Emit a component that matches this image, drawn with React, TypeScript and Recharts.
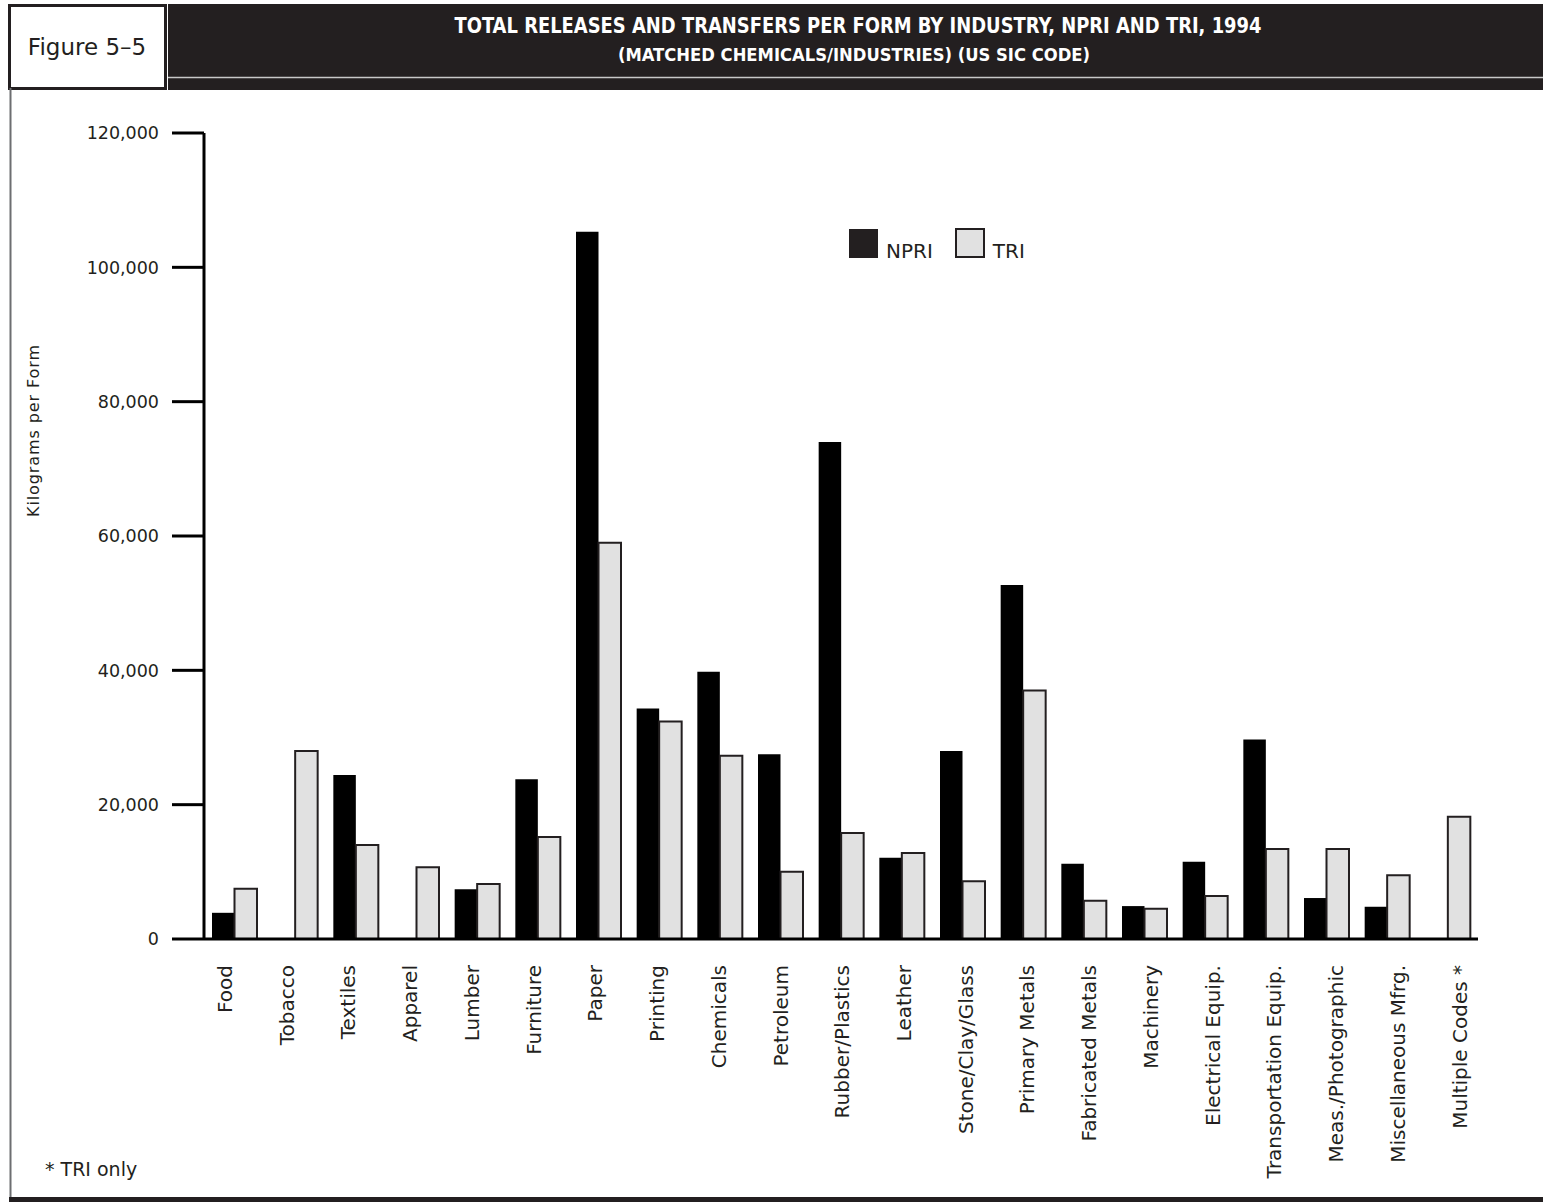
import React from 'react';
import { BarChart, Bar, XAxis, YAxis, Legend } from 'recharts';

const categories = [
  'Food', 'Tobacco', 'Textiles', 'Apparel', 'Lumber', 'Furniture', 'Paper', 'Printing',
  'Chemicals', 'Petroleum', 'Rubber/Plastics', 'Leather', 'Stone/Clay/Glass', 'Primary Metals',
  'Fabricated Metals', 'Machinery', 'Electrical Equip.', 'Transportation Equip.',
  'Meas./Photographic', 'Miscellaneous Mfrg.', 'Multiple Codes *',
];
const npriValues = [3900, null, 24400, null, 7400, 23800, 105300, 34300, 39800, 27500, 74000, 12100, 28000, 52700, 11200, 4900, 11500, 29700, 6100, 4800, null];
const triValues = [7500, 28000, 14000, 10700, 8200, 15200, 59000, 32400, 27300, 10000, 15800, 12800, 8600, 37000, 5700, 4500, 6400, 13400, 13400, 9500, 18200];
const yTicks = [0, 20000, 40000, 60000, 80000, 100000, 120000];

const data = categories.map((c, i) => ({ name: c, NPRI: npriValues[i], TRI: triValues[i] }));

const FONT = "'DejaVu Sans', sans-serif";
const INK = '#231f20';

const CatTick = (props: any) => {
  const { x, y, payload, index } = props;
  const lx = x - 9.5 + index * 1.075;
  return (
    <text
      x={lx}
      y={y}
      transform={`rotate(-90 ${lx} ${y})`}
      textAnchor="end"
      dominantBaseline="central"
      fontFamily={FONT}
      fontSize={20}
      fill={INK}
    >
      {payload.value}
    </text>
  );
};

const renderLegend = (props: any) => {
  const { payload } = props;
  return (
    <div style={{ display: 'flex', alignItems: 'flex-end', fontFamily: FONT, color: INK }}>
      {payload.map((p: any, i: number) => (
        <div key={p.value} style={{ display: 'flex', alignItems: 'flex-end', marginRight: i === 0 ? 22 : 0 }}>
          <div
            style={{
              width: p.value === 'TRI' ? 26 : 29,
              height: p.value === 'TRI' ? 26 : 29,
              background: p.value === 'TRI' ? '#e1e1e1' : INK,
              border: p.value === 'TRI' ? `2px solid ${INK}` : 'none',
              marginRight: 8,
            }}
          />
          <span style={{ fontSize: 20, lineHeight: '20px', marginBottom: -3 }}>{p.value}</span>
        </div>
      ))}
    </div>
  );
};

export default function App() {
  return (
    <div style={{ position: 'absolute', left: 0, top: 0, width: 1543, height: 1202, background: '#fff' }}>
      <svg width={1543} height={1202} style={{ position: 'absolute', left: 0, top: 0 }}>
        <rect x={168} y={4} width={1375} height={86} fill={INK} />
        <line x1={168} x2={1543} y1={77.5} y2={77.5} stroke="#c8c8c8" strokeWidth={1.5} />
        <rect x={9.5} y={5.5} width={156} height={83} fill="#fff" stroke={INK} strokeWidth={3} />
        <line x1={10.5} x2={10.5} y1={88} y2={1198} stroke="#6d6e71" strokeWidth={2} />
        <rect x={9} y={1197} width={1534} height={5} fill={INK} />
        <text x={87} y={55} textAnchor="middle" fontFamily={FONT} fontSize={23} fill={INK}>
          Figure 5–5
        </text>
        <text
          x={858}
          y={33}
          textAnchor="middle"
          fontFamily="'Liberation Sans Narrow', 'DejaVu Sans Condensed', 'Liberation Sans', sans-serif"
          fontWeight="bold"
          fontSize={21}
          fill="#fff"
          textLength={807}
          lengthAdjust="spacingAndGlyphs"
        >
          TOTAL RELEASES AND TRANSFERS PER FORM BY INDUSTRY, NPRI AND TRI, 1994
        </text>
        <text
          x={854}
          y={61}
          textAnchor="middle"
          fontFamily="'Liberation Sans Narrow', 'DejaVu Sans Condensed', 'Liberation Sans', sans-serif"
          fontWeight="bold"
          fontSize={17}
          fill="#fff"
          textLength={472}
          lengthAdjust="spacingAndGlyphs"
        >
          (MATCHED CHEMICALS/INDUSTRIES) (US SIC CODE)
        </text>
        <text x={45} y={1176} fontFamily={FONT} fontSize={19} fill={INK}>
          * TRI only
        </text>
        <text
          x={33}
          y={431}
          transform="rotate(-90 33 431)"
          textAnchor="middle"
          dominantBaseline="central"
          fontFamily={FONT}
          fontSize={16}
          fill={INK}
          textLength={172}
        >
          Kilograms per Form
        </text>
      </svg>
      <div style={{ position: 'absolute', left: 0, top: 0 }}>
        <BarChart
          width={1543}
          height={1202}
          data={data}
          margin={{ top: 133, right: 65, bottom: 23, left: 0 }}
          barGap={0}
          barSize={22.5}
        >
          <XAxis
            dataKey="name"
            height={240}
            interval={0}
            tick={<CatTick />}
            tickLine={false}
            tickSize={6}
            tickMargin={20}
            axisLine={{ stroke: '#000', strokeWidth: 3 }}
          />
          <YAxis
            width={204}
            domain={[0, 120000]}
            ticks={yTicks}
            interval={0}
            tickSize={32}
            tickMargin={13}
            tickLine={{ stroke: '#000', strokeWidth: 3 }}
            axisLine={{ stroke: '#000', strokeWidth: 3 }}
            tick={{ fontFamily: FONT, fontSize: 17.5, fill: INK }}
            tickFormatter={(v: number) => v.toLocaleString('en-US')}
          />
          <Legend
            content={renderLegend}
            layout="horizontal"
            verticalAlign="middle"
            align="center"
            wrapperStyle={{ position: 'absolute', left: 849, top: 228, width: 220 }}
          />
          <Bar dataKey="NPRI" fill="#000" isAnimationActive={false} />
          <Bar dataKey="TRI" fill="#e1e1e1" stroke={INK} strokeWidth={2} isAnimationActive={false} />
        </BarChart>
      </div>
    </div>
  );
}
